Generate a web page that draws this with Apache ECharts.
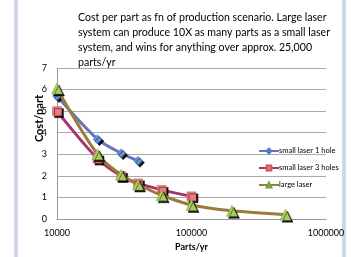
<!DOCTYPE html>
<html><head><meta charset="utf-8">
<script src="https://cdn.jsdelivr.net/npm/echarts@6/dist/echarts.min.js"></script>
<style>html,body{margin:0;padding:0;background:#fff}#c{width:351px;height:257px}</style>
</head><body><div id="c"></div>
<script>
const titleLines = [
  "Cost per part as fn of production scenario. Large laser",
  "system can produce 10X as many parts as a small laser",
  "system, and wins for anything over approx. 25,000",
  "parts/yr"
];
const xName = "Parts/yr";
const yName = "Cost/part";
const seriesNames = ["small laser 1 hole", "small laser 3 holes", "large laser"];
const smallLaser1X = [10000, 20000, 30000, 40000];
const smallLaser1Y = [5.7, 3.7, 3.05, 2.7];
const smallLaser3X = [10000, 20000, 30000, 40000, 60000, 100000];
const smallLaser3Y = [5.0, 2.8, 2.0, 1.65, 1.35, 1.05];
const largeLaserX = [10000, 20000, 30000, 40000, 60000, 100000, 200000, 500000];
const largeLaserY = [6.05, 3.0, 2.05, 1.6, 1.1, 0.65, 0.38, 0.2];

const zip = (xs, ys) => xs.map((x, i) => [x, ys[i]]);
const font = "Lato, 'Liberation Sans', sans-serif";
const shadow = {shadowColor: 'rgba(0,0,0,0.9)', shadowOffsetX: 2, shadowOffsetY: 2, shadowBlur: 0};

const chart = echarts.init(document.getElementById('c'), null, {renderer: 'canvas'});
chart.setOption({
  animation: false,
  backgroundColor: '#fff',
  textStyle: {fontFamily: font},
  graphic: [
    {type: 'rect', shape: {x: 14, y: 0, width: 4, height: 257}, style: {fill: '#cdd8ea'}, silent: true},
    {type: 'rect', shape: {x: 342, y: 0, width: 4, height: 257}, style: {fill: '#cdd8ea'}, silent: true}
  ],
  title: {
    text: titleLines.join('\n'),
    left: 78, top: 10, padding: 0,
    textStyle: {fontSize: 10.6, fontWeight: 'normal', color: '#000', lineHeight: 15, fontFamily: font}
  },
  grid: {left: 57, right: 25, top: 68, bottom: 34},
  legend: {
    orient: 'vertical', left: 258, top: 147, itemGap: 9, padding: 0,
    itemWidth: 20, itemHeight: 6,
    textStyle: {fontSize: 7.5, color: '#000', fontFamily: font, padding: [0,0,0,-5]},
    data: seriesNames
  },
  xAxis: {
    type: 'log', logBase: 10, min: 10000, max: 1000000,
    name: xName, nameLocation: 'middle', nameGap: 24,
    nameTextStyle: {fontSize: 9, fontWeight: 'bold', color: '#000'},
    axisLine: {lineStyle: {color: '#999'}},
    axisTick: {show: false},
    splitLine: {show: false},
    minorTick: {show: false},
    axisLabel: {fontSize: 9, color: '#000', margin: 10, formatter: v => String(Math.round(v))}
  },
  yAxis: {
    type: 'value', min: 0, max: 7, interval: 1,
    name: yName, nameLocation: 'middle', nameGap: 12, nameRotate: 90, nameMoveOverlap: false,
    nameTextStyle: {fontSize: 11, fontWeight: 'bold', color: '#000', padding: [0, 0, 0, 50]},
    axisLine: {show: true, lineStyle: {color: '#999'}},
    axisTick: {show: false},
    splitLine: {lineStyle: {color: '#aaa'}},
    axisLabel: {fontSize: 9, color: '#000', margin: 10}
  },
  series: [
    {
      name: seriesNames[0], type: 'line', smooth: 0.3,
      data: zip(smallLaser1X, smallLaser1Y),
      symbol: 'diamond', symbolSize: 9,
      lineStyle: {color: '#6a72bb', width: 3},
      itemStyle: Object.assign({color: '#5e93d9', borderColor: '#4a7cc4', borderWidth: 0.5}, shadow),
      z: 3
    },
    {
      name: seriesNames[1], type: 'line', smooth: 0.3,
      data: zip(smallLaser3X, smallLaser3Y),
      symbol: 'rect', symbolSize: 9,
      lineStyle: {color: '#a63470', width: 3},
      itemStyle: Object.assign({color: '#ee7b7b', borderColor: '#c95a5a', borderWidth: 0.5}, shadow),
      z: 2
    },
    {
      name: seriesNames[2], type: 'line', smooth: 0.3,
      data: zip(largeLaserX, largeLaserY),
      symbol: 'triangle', symbolSize: 11,
      lineStyle: {color: '#9a7b3c', width: 3},
      itemStyle: Object.assign({color: '#a7cf5c', borderColor: '#7a9a3a', borderWidth: 0.5}, shadow),
      z: 4
    }
  ]
});
</script></body></html>
